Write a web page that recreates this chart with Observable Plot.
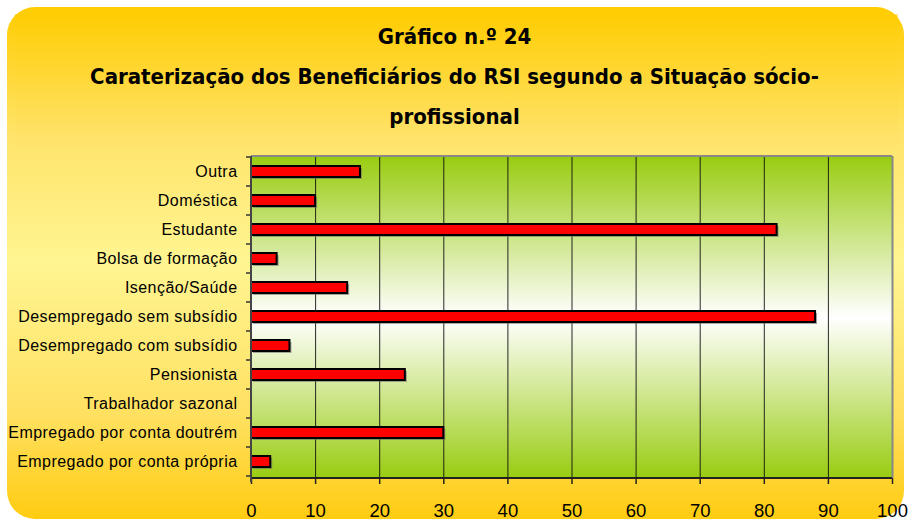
<!DOCTYPE html>
<html>
<head>
<meta charset="utf-8">
<script src="https://cdn.jsdelivr.net/npm/d3@7"></script>
<script src="https://cdn.jsdelivr.net/npm/@observablehq/plot@0.6"></script>
<style>
  html, body { margin: 0; padding: 0; background: #ffffff; }
  #page { position: relative; width: 909px; height: 521px; overflow: hidden; }
  #frame {
    position: absolute; left: 7px; top: 7px; width: 897px; height: 512px;
    border-radius: 28px;
    background: linear-gradient(to bottom, #ffcc00 0%, #ffe46a 25%, #fff592 50%, #ffe060 80%, #ffcc11 100%);
  }
  #titlebox {
    position: absolute; left: 15px; top: 14px; width: 883px; height: 134px;
    background: linear-gradient(to bottom, rgba(255,204,0,0.5) 0%, rgba(255,226,112,0.5) 100%);
  }
  .t { position: absolute; left: 0; width: 909px; text-align: center;
       font-family: "DejaVu Sans Condensed", "DejaVu Sans", sans-serif; font-weight: bold;
       font-size: 22px; color: #000; line-height: 26px; }
  #chart { position: absolute; left: 0; top: 150px; }
  #chart svg g[aria-label="y-axis tick label"] text { letter-spacing: 0.45px; }
</style>
</head>
<body>
<div id="page">
  <div id="frame"></div>
  <div id="titlebox"></div>
  <div class="t" style="top:24px">Gráfico n.º 24</div>
  <div class="t" style="top:64px">Caraterização dos Beneficiários do RSI segundo a Situação sócio-</div>
  <div class="t" style="top:104px">profissional</div>
  <div id="chart"></div>
</div>
<script>
const categories = [
  "Outra",
  "Doméstica",
  "Estudante",
  "Bolsa de formação",
  "Isenção/Saúde",
  "Desempregado sem subsídio",
  "Desempregado com subsídio",
  "Pensionista",
  "Trabalhador sazonal",
  "Empregado por conta doutrém",
  "Empregado por conta própria"
];
const values = [17, 10, 82, 4, 15, 88, 6, 24, 0, 30, 3];
const xTicks = [0, 10, 20, 30, 40, 50, 60, 70, 80, 90, 100];

const data = categories.map((c, i) => ({cat: c, v: values[i]}));
const padIn = 0.62;
const padOut = padIn / 2;

function bandBoundaries(index, scales, values, dimensions) {
  const y = scales.y;
  const {height, marginTop, marginBottom, marginLeft} = dimensions;
  const n = categories.length;
  let step, bw;
  if (y && typeof y.step === "function") { step = y.step(); bw = y.bandwidth(); }
  else { step = (height - marginTop - marginBottom) / n; bw = step * (1 - padIn); }
  const g = d3.create("svg:g");
  const ys = categories.map(c => y(c) - (step - bw) / 2);
  ys.push(y(categories[n - 1]) + bw + (step - bw) / 2);
  g.selectAll("line").data(ys).join("line")
    .attr("x1", marginLeft - 5).attr("x2", marginLeft)
    .attr("y1", d => d).attr("y2", d => d)
    .attr("stroke", "#333").attr("stroke-width", 1.5);
  return g.node();
}

const chart = Plot.plot({
  width: 909,
  height: 371,
  marginTop: 6,
  marginBottom: 43,
  marginLeft: 251,
  marginRight: 17,
  style: {background: "transparent", fontFamily: "'Liberation Sans', Arial, sans-serif", color: "#000", overflow: "visible"},
  x: {domain: [0, 100], ticks: xTicks, label: null},
  y: {domain: categories, paddingInner: padIn, paddingOuter: padOut, label: null},
  marks: [
    Plot.frame({fill: "url(#plotgrad)", stroke: null}),
    Plot.gridX(xTicks.slice(1, -1), {stroke: "#111", strokeOpacity: 0.9, strokeWidth: 1}),
    Plot.ruleX([100], {stroke: "#888", strokeWidth: 2}),
    Plot.barX(data, {y: "cat", x: "v", fill: "#666", fillOpacity: 0.55, dx: 2, dy: 2}),
    Plot.barX(data, {y: "cat", x: "v", fill: "#ff0000", stroke: "#000", strokeWidth: 2}),
    Plot.axisX({ticks: xTicks, tickSize: 6, tickPadding: 19, fontSize: 18.5, stroke: "#222", strokeWidth: 1.5, label: null, tickFormat: d => d}),
    Plot.axisY({tickSize: 0, tickPadding: 14, fontSize: 16, label: null}),
    bandBoundaries
  ]
});

// plot gradient defs
const svg = d3.select(chart);
const defs = svg.insert("defs", ":first-child");
const lg = defs.append("linearGradient").attr("id", "plotgrad")
  .attr("x1", 0).attr("y1", 0).attr("x2", 0).attr("y2", 1);
lg.append("stop").attr("offset", "0%").attr("stop-color", "#99cc11");
lg.append("stop").attr("offset", "50%").attr("stop-color", "#ffffff");
lg.append("stop").attr("offset", "100%").attr("stop-color", "#99cc11");

// axis lines: top border, left axis, bottom axis
const x0 = 251, x1 = 892, yTop = 6, yBot = 371 - 43;
svg.append("line").attr("x1", x0).attr("x2", x1).attr("y1", yTop).attr("y2", yTop).attr("stroke", "#888").attr("stroke-width", 2);
svg.append("line").attr("x1", x0).attr("x2", x1).attr("y1", yBot).attr("y2", yBot).attr("stroke", "#222").attr("stroke-width", 2);
svg.append("line").attr("x1", x0).attr("x2", x0).attr("y1", yTop).attr("y2", yBot + 4).attr("stroke", "#444").attr("stroke-width", 2);

document.getElementById("chart").appendChild(chart);
</script>
</body>
</html>
